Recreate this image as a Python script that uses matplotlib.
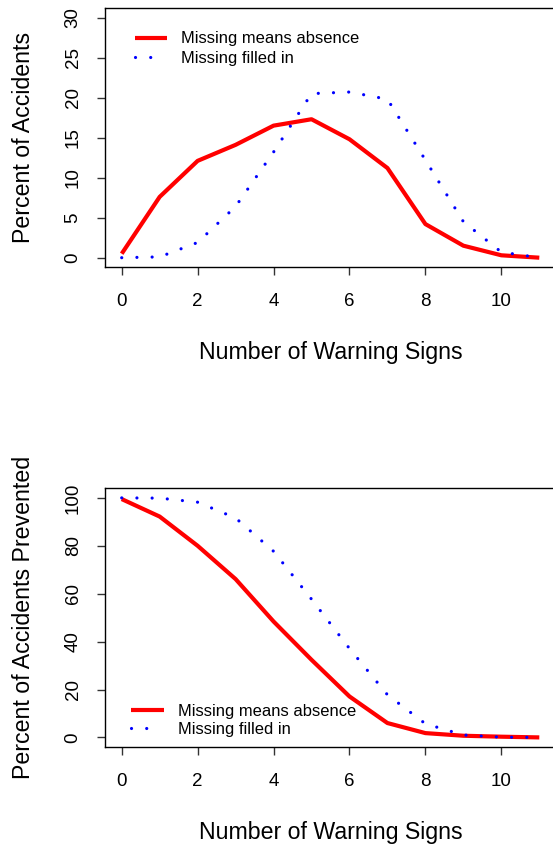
import numpy as np
import matplotlib
matplotlib.use("Agg")
import matplotlib.pyplot as plt

plt.rcParams['font.family'] = ['Liberation Sans', 'DejaVu Sans']

# number of warning signs
signos = [0, 1, 2, 3, 4, 5, 6, 7, 8, 9, 10, 11]

# percent of accidents (top panel)
acc_ausencia = [0.5, 7.6, 12.1, 14.1, 16.5, 17.3, 14.8, 11.2, 4.2, 1.5, 0.3, 0.0]
acc_relleno = [0.0, 0.1, 1.9, 6.4, 13.2, 20.5, 20.7, 19.8, 12.2, 4.5, 0.7, 0.0]

# percent of accidents prevented (bottom panel)
prev_ausencia = [99.5, 92.2, 80.0, 66.1, 48.4, 32.4, 17.1, 6.0, 1.8, 0.7, 0.3, 0.0]
prev_relleno = [100.0, 99.9, 98.2, 91.6, 77.7, 57.7, 37.1, 17.8, 5.7, 1.0, 0.1, 0.0]

etiquetas = ["Missing means absence", "Missing filled in"]

W, H = 553, 844
fig = plt.figure(figsize=(W / 100, H / 100), dpi=100)


def crear_ejes(top_px, bot_px):
    left_px, right_px = 105, 556
    return fig.add_axes([left_px / W, 1 - bot_px / H,
                         (right_px - left_px) / W, (bot_px - top_px) / H])


def estilo(ax, yticks, ylim, ylabel):
    ax.set_xlim(-0.44, 11.44)
    ax.set_ylim(*ylim)
    ax.set_xticks([0, 2, 4, 6, 8, 10])
    ax.set_yticks(yticks)
    ax.tick_params(direction='out', length=5.8, width=1, color='#333333',
                   labelsize=13.5)
    ax.tick_params(axis='x', pad=13)
    ax.tick_params(axis='y', pad=11)
    for lab in ax.get_yticklabels():
        lab.set_rotation(90)
        lab.set_va('center')
    for s in ax.spines.values():
        s.set_linewidth(1)
    ax.set_xlabel("Number of Warning Signs", fontsize=16.7)
    ax.xaxis.set_label_coords(0.5, -0.33)
    ax.xaxis.label.set_va('center')
    ax.set_ylabel(ylabel, fontsize=16.7)
    ax.yaxis.set_label_coords(-0.18, 0.5)
    ax.yaxis.label.set_va('center')


def dibujar(ax, y1, y2):
    ax.plot(signos, y1, color='#FF0000', lw=3.0, solid_joinstyle='round',
            solid_capstyle='butt', label=etiquetas[0])
    ax.plot(signos, y2, color='#0000FF', lw=2.3, linestyle=(0, (0.01, 4.75)),
            dash_capstyle='round', label=etiquetas[1])


def leyenda(ax, **kw):
    leg = ax.legend(frameon=False, fontsize=11.9, handlelength=1.95,
                    handletextpad=0.85, borderaxespad=0, **kw)
    # the dotted key shows only two dots, as in R
    punteada = leg.get_lines()[1]
    xd = np.asarray(punteada.get_xdata(), dtype=float)
    punteada.set_xdata(np.linspace(xd[0], xd[0] + 0.6 * (xd[-1] - xd[0]),
                                   len(xd)))
    return leg


ax1 = crear_ejes(8, 267.3)
dibujar(ax1, acc_ausencia, acc_relleno)
estilo(ax1, [0, 5, 10, 15, 20, 25, 30], (-1.2, 31.2), "Percent of Accidents")
leyenda(ax1, loc='upper left', bbox_to_anchor=(0.051, 0.935),
        labelspacing=0.25)

ax2 = crear_ejes(488.3, 747)
dibujar(ax2, prev_ausencia, prev_relleno)
estilo(ax2, [0, 20, 40, 60, 80, 100], (-4, 104),
       "Percent of Accidents Prevented")
leyenda(ax2, loc='lower left', bbox_to_anchor=(0.044, 0.015),
        labelspacing=0.15)

fig.savefig("out.png", dpi=100)
